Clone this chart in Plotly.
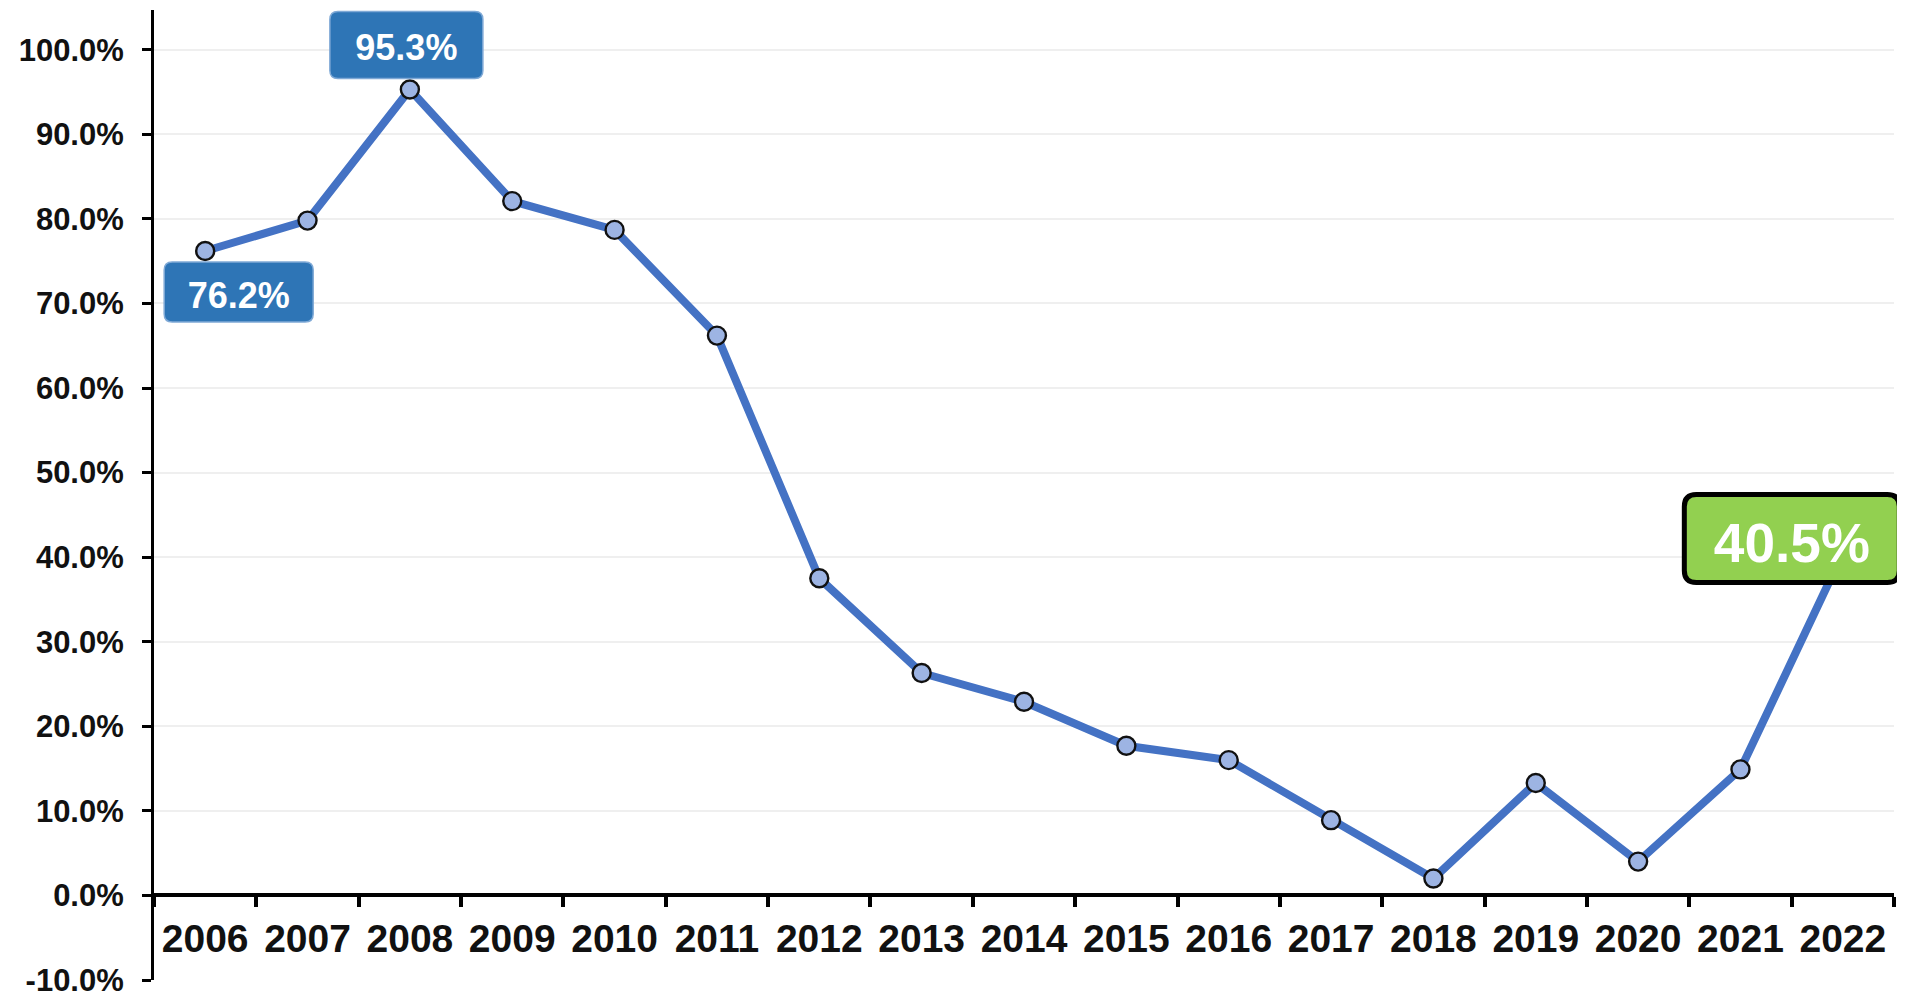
import plotly.graph_objects as go

years = [str(y) for y in range(2006, 2023)]
values = [76.2, 79.8, 95.3, 82.1, 78.7, 66.2, 37.5, 26.3, 22.9, 17.7, 16.0, 8.9, 2.0, 13.3, 4.0, 14.9, 40.5]
y_ticks = list(range(-10, 101, 10))
y_min, y_max = -10, 104.7

# callouts: (index, text)
callouts_blue = [(0, "76.2%"), (2, "95.3%")]
callout_green = (16, "40.5%")

W, H = 1897, 988
FONT = "Liberation Sans, Arial, sans-serif"

fig = go.Figure()
fig.add_trace(go.Scatter(
    x=years, y=values, mode="lines+markers",
    line=dict(color="#4472C4", width=8),
    marker=dict(size=18, color="#9DB4E3", line=dict(color="#111111", width=2.4)),
    hoverinfo="skip", showlegend=False,
))


def rrect(cx, cy, w, h, r):
    x0, x1 = cx - w / 2, cx + w / 2
    y0, y1 = cy - h / 2, cy + h / 2
    return (f"M{x0 + r},{y0} L{x1 - r},{y0} Q{x1},{y0} {x1},{y0 + r} "
            f"L{x1},{y1 - r} Q{x1},{y1} {x1 - r},{y1} L{x0 + r},{y1} "
            f"Q{x0},{y1} {x0},{y1 - r} L{x0},{y0 + r} Q{x0},{y0} {x0 + r},{y0} Z")


n = len(years)
# box geometry (pixel offsets relative to the data point; +y is up)
box_geo = {0: (33.5, -41, 149, 60, 8), 2: (-3.5, 44.5, 153, 67, 8)}
shapes = []
for idx, txt in callouts_blue:
    dx, dy, bw, bh, r = box_geo[idx]
    shapes.append(dict(
        type="path", xref="paper", yref="paper",
        xsizemode="pixel", ysizemode="pixel",
        xanchor=(idx + 0.5) / n, yanchor=(values[idx] - y_min) / (y_max - y_min),
        path=rrect(dx, dy, bw, bh, r),
        fillcolor="#2E75B6", line=dict(color="#7FA9D6", width=1.5), layer="above",
        label=dict(text=txt, textposition="middle center", padding=0,
                   font=dict(family=FONT, size=36, color="white", weight="bold")),
    ))

gi, gtxt = callout_green
dx, dy, bw, bh, r = (-51, 14.5, 215, 88, 12)
shapes.append(dict(
    type="path", xref="paper", yref="paper",
    xsizemode="pixel", ysizemode="pixel",
    xanchor=(gi + 0.5) / n, yanchor=(values[gi] - y_min) / (y_max - y_min),
    path=rrect(dx, dy, bw, bh, r),
    fillcolor="#92D050", line=dict(color="#000000", width=5), layer="above",
    label=dict(text=gtxt, textposition="middle center", padding=0,
               font=dict(family=FONT, size=55, color="white", weight="bold")),
))

fig.update_layout(
    width=W, height=H,
    margin=dict(l=146, r=11, t=2, b=16, autoexpand=False),
    paper_bgcolor="white", plot_bgcolor="white",
    shapes=shapes,
    xaxis=dict(
        type="category", range=[-0.5, n - 0.5], automargin=False,
        anchor="free", position=(0 - y_min) / (y_max - y_min),
        showline=True, linecolor="#000000", linewidth=4,
        ticks="outside", tickson="boundaries", ticklen=10, tickwidth=4, tickcolor="#000000",
        showgrid=False, ticklabelstandoff=8,
        tickfont=dict(family=FONT, size=39, color="#111111", weight="bold"),
    ),
    yaxis=dict(
        range=[y_min, y_max], tickvals=y_ticks, automargin=False,
        ticktext=[f"{v:.1f}%" for v in y_ticks],
        showline=True, linecolor="#000000", linewidth=3,
        ticks="outside", ticklen=9, tickwidth=3, tickcolor="#000000",
        showgrid=True, gridcolor="#EFEFEF", gridwidth=2, zeroline=False,
        ticklabelstandoff=12, ticklabeloverflow="allow",
        tickfont=dict(family=FONT, size=31, color="#111111", weight="bold"),
    ),
)

fig.write_html("out.html")
